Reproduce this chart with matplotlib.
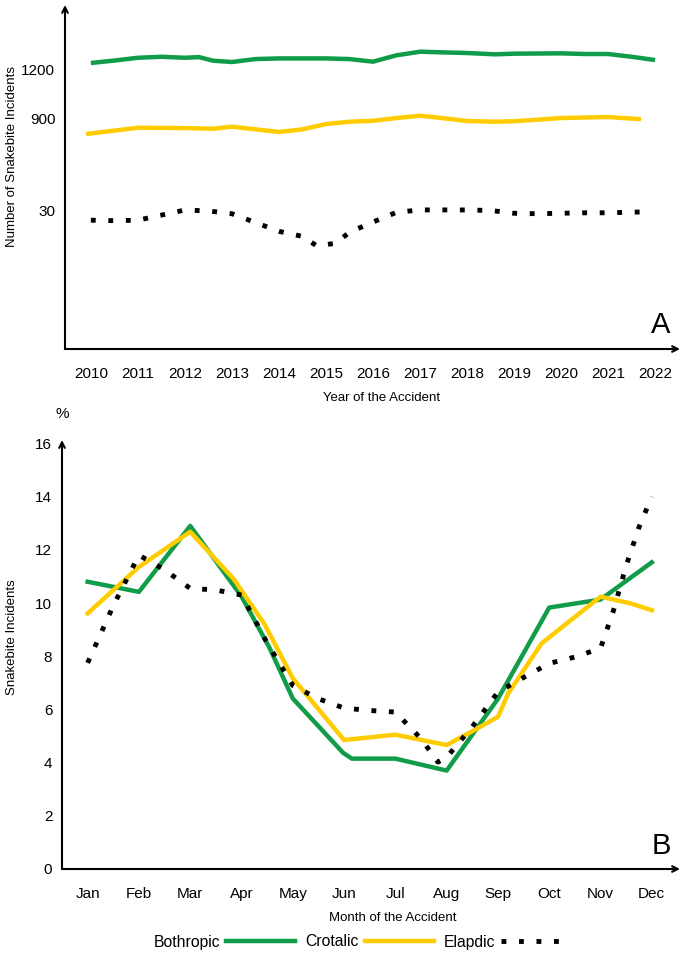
import numpy as np
import matplotlib.pyplot as plt
from matplotlib.lines import Line2D

plt.rcParams['font.family'] = ['Liberation Sans', 'DejaVu Sans']

green = '#109c48'
yellow = '#ffcc00'

# --- panel A: yearly counts ---
years_both = [2010, 2010.5, 2011, 2011.5, 2012, 2012.3, 2012.6, 2013, 2013.5, 2014, 2015,
              2015.5, 2016, 2016.5, 2017, 2018, 2018.6, 2019, 2020, 2020.5, 2021, 2021.5, 2022]
bothropic_y = [1237, 1252, 1269, 1275, 1269, 1273, 1251, 1243, 1261, 1265, 1265,
               1261, 1245, 1284, 1306, 1298, 1290, 1294, 1296, 1292, 1292, 1275, 1255]

years_crot = [2009.9, 2011, 2012, 2012.6, 2013, 2014, 2014.5, 2015, 2015.5, 2016, 2016.5,
              2017, 2017.5, 2018, 2018.6, 2019, 2019.5, 2020, 2021, 2021.7]
crotalic_y = [749, 808, 805, 799, 818, 768, 793, 843, 865, 874, 900,
              914, 898, 872, 865, 870, 884, 900, 906, 889]

years_elap = [2010, 2010.5, 2011, 2011.5, 2012, 2012.5, 2013, 2013.5, 2014, 2014.5, 2014.8,
              2015.2, 2015.5, 2016, 2016.5, 2017, 2017.5, 2018, 2018.5, 2019, 2019.5,
              2020, 2020.5, 2021, 2021.8]
elapidic_y = [27.8, 27.7, 27.8, 28.9, 30.0, 29.8, 29.2, 27.3, 25.4, 24.3, 22.3,
              22.8, 25.2, 27.4, 29.5, 30.9, 31.0, 30.5, 29.9, 29.3, 29.2,
              29.3, 29.4, 29.4, 29.6]

year_labels = [str(y) for y in range(2010, 2023)]
ytick_vals = [30, 900, 1200]

# --- panel B: monthly percentages ---
months = ['Jan', 'Feb', 'Mar', 'Apr', 'May', 'Jun', 'Jul', 'Aug', 'Sep', 'Oct', 'Nov', 'Dec']
both_x = [0, 1, 2, 3, 3.55, 4, 4.98, 5.15, 6, 7, 8, 9, 10, 11]
both_m = [10.8, 10.42, 12.9, 10.25, 8.3, 6.41, 4.37, 4.15, 4.15, 3.7, 6.4, 9.83, 10.13, 11.53]
crot_x = [0, 1, 2, 2.85, 3.45, 4, 5, 6, 7, 7.5, 8, 8.2, 8.85, 10, 10.6, 11]
crot_m = [9.61, 11.36, 12.68, 10.9, 9.2, 7.17, 4.85, 5.05, 4.66, 5.18, 5.72, 6.6, 8.48, 10.24, 9.98, 9.73]
elap_x = [0, 0.5, 1, 1.5, 2, 2.5, 3, 3.5, 4, 4.5, 5, 5.5, 6, 6.3, 6.5, 6.83, 7,
          7.5, 8, 8.5, 9, 9.5, 10, 10.25, 10.5, 10.75, 11]
elap_m = [7.75, 9.9, 11.8, 11.25, 10.55, 10.49, 10.3, 8.5, 6.9, 6.4, 6.05, 5.96, 5.9, 5.3, 4.9, 4.02, 4.2,
          5.35, 6.65, 7.2, 7.73, 7.97, 8.3, 9.7, 11.4, 12.85, 14.0]

dot_style = (0, (1, 2.6))

fig = plt.figure(figsize=(6.84, 9.61), dpi=100)

# broken-looking y axis of panel A
anchor_v = [0, 30, 900, 1200, 2000]
anchor_p = [0, 139, 231, 280, 410.7]
fwd = lambda v: np.interp(v, anchor_v, anchor_p)
inv = lambda p: np.interp(p, anchor_p, anchor_v)

ax1 = fig.add_axes([65 / 684, 1 - 349 / 961, 615 / 684, 344 / 961])
ax1.set_yscale('function', functions=(fwd, inv))
ax1.plot(years_both, bothropic_y, color=green, lw=3.2, solid_capstyle='butt')
ax1.plot(years_crot, crotalic_y, color=yellow, lw=3.2, solid_capstyle='butt')
ax1.plot(years_elap, elapidic_y, color='black', lw=3.5, ls=dot_style, dash_capstyle='butt')
ax1.set_xlim(2009.45, 2022.53)
ax1.set_ylim(0, 1592)
ax1.set_xticks(range(2010, 2023))
ax1.set_xticklabels(year_labels)
ax1.set_yticks(ytick_vals)
ax1.set_yticklabels([str(v) for v in ytick_vals])
ax1.set_xlabel('Year of the Accident', fontsize=9.5)
ax1.xaxis.set_label_coords(0.515, -0.125)
ax1.set_ylabel('Number of Snakebite Incidents', fontsize=9.5)
ax1.yaxis.set_label_coords(-0.077, 0.56)
ax1.text(0.985, 0.03, 'A', transform=ax1.transAxes, fontsize=21, ha='right', va='bottom')

ax2 = fig.add_axes([62 / 684, 1 - 869 / 961, 618 / 684, 429 / 961])
ax2.plot(both_x, both_m, color=green, lw=3.2)
ax2.plot(crot_x, crot_m, color=yellow, lw=3.2)
ax2.plot(elap_x, elap_m, color='black', lw=3.5, ls=dot_style, dash_capstyle='butt')
ax2.set_xlim(-0.5, 11.55)
ax2.set_ylim(0, 16.13)
ax2.set_xticks(range(12))
ax2.set_xticklabels(months)
ax2.set_yticks(range(0, 17, 2))
ax2.set_xlabel('Month of the Accident', fontsize=9.5)
ax2.xaxis.set_label_coords(0.535, -0.1)
ax2.set_ylabel('Snakebite Incidents', fontsize=9.5)
ax2.yaxis.set_label_coords(-0.072, 0.54)
ax2.text(0.985, 0.02, 'B', transform=ax2.transAxes, fontsize=21, ha='right', va='bottom')
ax2.text(0, 1.06, '%', transform=ax2.transAxes, fontsize=11, ha='center', va='center')

for ax in (ax1, ax2):
    for s in ax.spines.values():
        s.set_visible(False)
    ax.tick_params(length=0, labelsize=11)
    ax.tick_params(axis='x', pad=13)
    ax.tick_params(axis='y', pad=7)
    ax.annotate('', xy=(0, 1), xytext=(0, 0), xycoords='axes fraction',
                arrowprops=dict(arrowstyle='->', lw=1.5, color='black', shrinkA=0, shrinkB=0))
    ax.annotate('', xy=(1, 0), xytext=(0, 0), xycoords='axes fraction',
                arrowprops=dict(arrowstyle='->', lw=1.5, color='black', shrinkA=0, shrinkB=0))

handles = [Line2D([], [], color=green, lw=3.2),
           Line2D([], [], color=yellow, lw=3.2),
           Line2D([], [], color='black', lw=3.5, ls=dot_style, dash_capstyle='butt')]
fig.legend(handles, ['Bothropic', 'Crotalic', 'Elapdic'], loc='center',
           bbox_to_anchor=(0.529, 1 - 942 / 961), ncol=3, frameon=False,
           markerfirst=False, handlelength=4.4, columnspacing=0.64, handletextpad=0.38,
           fontsize=11.3)

fig.savefig('out.png', dpi=100)
